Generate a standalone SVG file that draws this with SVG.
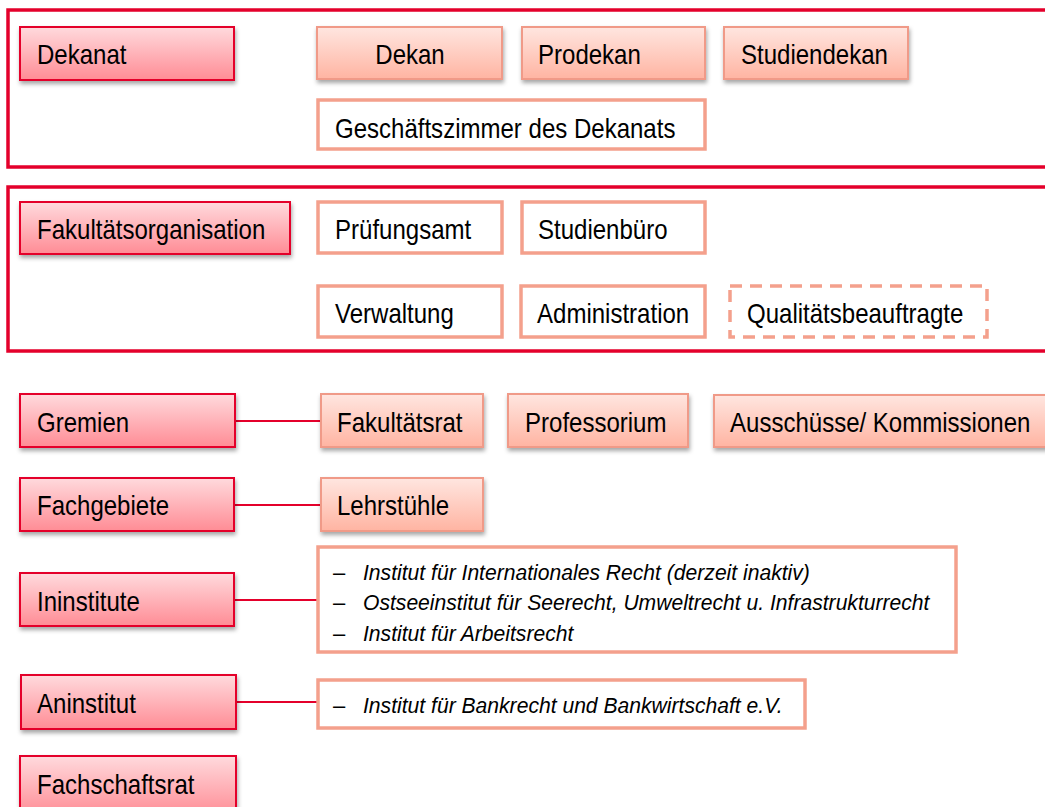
<svg xmlns="http://www.w3.org/2000/svg" width="1045" height="807" viewBox="0 0 1045 807">
<defs>
  <linearGradient id="gRed" x1="0" y1="0" x2="0" y2="1">
    <stop offset="0" stop-color="#ffdadd"/>
    <stop offset="1" stop-color="#ff8c95"/>
  </linearGradient>
  <linearGradient id="gSal" x1="0" y1="0" x2="0" y2="1">
    <stop offset="0" stop-color="#ffe6e0"/>
    <stop offset="1" stop-color="#ffb4a2"/>
  </linearGradient>
  <filter id="sh" x="-10%" y="-20%" width="120%" height="160%">
    <feDropShadow dx="1" dy="3" stdDeviation="2" flood-color="#000" flood-opacity="0.35"/>
  </filter>
</defs>
<style>
  .frame { fill: none; stroke: #e4002b; stroke-width: 3.5; }
  .red { fill: url(#gRed); stroke: #e4002b; stroke-width: 2; filter: url(#sh); }
  .sal { fill: url(#gSal); stroke: #f09a88; stroke-width: 2; filter: url(#sh); }
  .wht { fill: #ffffff; stroke: #f4a08c; stroke-width: 3.5; }
  .dash { fill: #ffffff; stroke: #f4a08c; stroke-width: 3.5; stroke-dasharray: 12 8; }
  .t { font-family: "Liberation Sans", Arial, sans-serif; font-size: 27px; fill: #000; }
  .c { text-anchor: middle; }
  .it { font-family: "Liberation Sans", Arial, sans-serif; font-size: 22px; font-style: italic; fill: #000; }
  .dsh { font-family: "Liberation Sans", Arial, sans-serif; font-size: 22px; fill: #000; }
  .con { stroke: #e4002b; stroke-width: 2; fill: none; }
</style>

<rect class="frame" x="8" y="10" width="1045" height="157"/>
<rect class="frame" x="8" y="187" width="1045" height="164"/>

<g id="connectors">
  <line class="con" x1="235" y1="421" x2="321" y2="421"/>
  <line class="con" x1="234" y1="505" x2="321" y2="505"/>
  <line class="con" x1="234" y1="600" x2="318" y2="600"/>
  <line class="con" x1="236" y1="702" x2="318" y2="702"/>
</g>

<g id="dekanat"><rect class="red" x="20" y="27" width="214" height="53"/><text class="t" transform="translate(37 64) scale(0.89 1)">Dekanat</text></g>
<g id="dekan"><rect class="sal" x="317" y="27" width="185" height="52"/><text class="t c" transform="translate(410 64) scale(0.89 1)">Dekan</text></g>
<g id="prodekan"><rect class="sal" x="522" y="27" width="183" height="52"/><text class="t" transform="translate(538 64) scale(0.89 1)">Prodekan</text></g>
<g id="studiendekan"><rect class="sal" x="724" y="27" width="184" height="52"/><text class="t" transform="translate(741 64) scale(0.89 1)">Studiendekan</text></g>
<g id="geschaeftszimmer"><rect class="wht" x="318" y="100" width="387" height="49"/><text class="t" transform="translate(335 138) scale(0.89 1)">Geschäftszimmer des Dekanats</text></g>

<g id="fakultaetsorganisation"><rect class="red" x="20" y="202" width="270" height="52"/><text class="t" transform="translate(37 239) scale(0.89 1)">Fakultätsorganisation</text></g>
<g id="pruefungsamt"><rect class="wht" x="318" y="202" width="184" height="51"/><text class="t" transform="translate(335 239) scale(0.89 1)">Prüfungsamt</text></g>
<g id="studienbuero"><rect class="wht" x="522" y="202" width="183" height="51"/><text class="t" transform="translate(538 239) scale(0.89 1)">Studienbüro</text></g>
<g id="verwaltung"><rect class="wht" x="318" y="286" width="184" height="51"/><text class="t" transform="translate(335 323) scale(0.89 1)">Verwaltung</text></g>
<g id="administration"><rect class="wht" x="521" y="286" width="184" height="51"/><text class="t" transform="translate(537 323) scale(0.89 1)">Administration</text></g>
<g id="qualitaetsbeauftragte"><rect class="dash" x="730" y="286" width="257" height="51"/><text class="t" transform="translate(747 323) scale(0.89 1)">Qualitätsbeauftragte</text></g>

<g id="gremien"><rect class="red" x="20" y="394" width="215" height="53"/><text class="t" transform="translate(37 432) scale(0.89 1)">Gremien</text></g>
<g id="fakultaetsrat"><rect class="sal" x="321" y="394" width="162" height="53"/><text class="t" transform="translate(337 432) scale(0.89 1)">Fakultätsrat</text></g>
<g id="professorium"><rect class="sal" x="508" y="394" width="180" height="53"/><text class="t" transform="translate(525 432) scale(0.89 1)">Professorium</text></g>
<g id="ausschuesse"><rect class="sal" x="714" y="395" width="340" height="52"/><text class="t" transform="translate(730 432) scale(0.89 1)">Ausschüsse/ Kommissionen</text></g>

<g id="fachgebiete"><rect class="red" x="20" y="478" width="214" height="53"/><text class="t" transform="translate(37 515) scale(0.89 1)">Fachgebiete</text></g>
<g id="lehrstuehle"><rect class="sal" x="321" y="478" width="162" height="53"/><text class="t" transform="translate(337 515) scale(0.89 1)">Lehrstühle</text></g>

<g id="ininstitute"><rect class="red" x="20" y="573" width="214" height="53"/><text class="t" transform="translate(37 611) scale(0.89 1)">Ininstitute</text></g>
<g id="ininstitute-liste"><rect class="wht" x="318" y="547" width="638" height="105"/>
  <text class="dsh" x="333" y="580">–</text><text class="it" transform="translate(363 580) scale(0.96 1)">Institut für Internationales  Recht (derzeit inaktiv)</text>
  <text class="dsh" x="333" y="610">–</text><text class="it" transform="translate(363 610) scale(0.96 1)">Ostseeinstitut für Seerecht, Umweltrecht u. Infrastrukturrecht</text>
  <text class="dsh" x="333" y="641">–</text><text class="it" transform="translate(363 641) scale(0.96 1)">Institut für Arbeitsrecht</text>
</g>

<g id="aninstitut"><rect class="red" x="21" y="675" width="215" height="54"/><text class="t" transform="translate(37 713) scale(0.89 1)">Aninstitut</text></g>
<g id="aninstitut-liste"><rect class="wht" x="318" y="680" width="487" height="48"/>
  <text class="dsh" x="333" y="713">–</text><text class="it" transform="translate(363 713) scale(0.96 1)">Institut für Bankrecht und Bankwirtschaft e.V.</text>
</g>

<g id="fachschaftsrat"><rect class="red" x="20" y="756" width="216" height="60"/><text class="t" transform="translate(37 794) scale(0.89 1)">Fachschaftsrat</text></g>
</svg>
